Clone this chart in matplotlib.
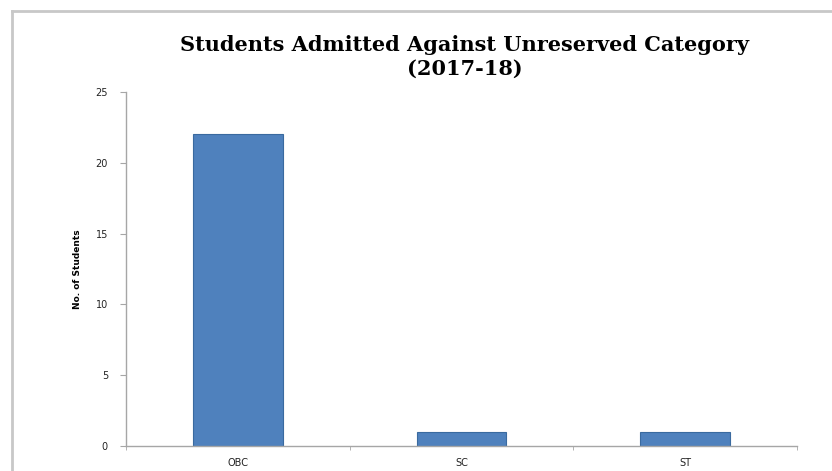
import matplotlib
matplotlib.use('Agg')
import matplotlib.pyplot as plt
from matplotlib.lines import Line2D

categories = ['OBC', 'SC', 'ST']
students = [22, 1, 1]
y_ticks = [0, 5, 10, 15, 20, 25]

bar_color = '#4F81BD'
edge_color = '#3A6A9F'
axis_color = '#A6A6A6'


def main():
    fig = plt.figure(figsize=(8.32, 4.71), dpi=100)
    fig.patch.set_facecolor('white')

    # outer frame of the chart area (left and top edges visible)
    fig.add_artist(Line2D([12 / 832, 12 / 832], [-0.1, 1 - 11 / 471],
                          transform=fig.transFigure, color='#C8C8C8', linewidth=2))
    fig.add_artist(Line2D([12 / 832, 1.1], [1 - 11 / 471, 1 - 11 / 471],
                          transform=fig.transFigure, color='#C8C8C8', linewidth=2))

    ax = fig.add_axes([126 / 832, 25 / 471, 671 / 832, 354 / 471])
    x = list(range(len(categories)))
    ax.bar(x, students, width=0.4, color=bar_color, edgecolor=edge_color, linewidth=0.8)

    ax.set_xlim(-0.5, len(categories) - 0.5)
    ax.set_ylim(0, 25)
    ax.set_yticks(y_ticks)
    ax.set_yticklabels([str(t) for t in y_ticks], fontsize=7, color='#222222')
    ax.set_xticks(x)
    ax.set_xticklabels(categories, fontsize=7, color='#222222')
    ax.tick_params(axis='x', which='major', length=0, pad=9)
    ax.set_xticks([i - 0.5 for i in range(len(categories) + 1)], minor=True)
    ax.tick_params(axis='x', which='minor', length=3, color=axis_color, direction='out')
    ax.tick_params(axis='y', length=4, color=axis_color, pad=9)

    for side in ['top', 'right']:
        ax.spines[side].set_visible(False)
    for side in ['left', 'bottom']:
        ax.spines[side].set_color(axis_color)
        ax.spines[side].set_linewidth(1)

    ax.set_ylabel('No. of Students', fontsize=6.5, fontweight='bold', labelpad=10)

    fig.text(465 / 832, 1 - 57 / 471,
             'Students Admitted Against Unreserved Category\n(2017-18)',
             ha='center', va='center', fontsize=15, fontweight='bold',
             family='DejaVu Serif', linespacing=1.25)

    fig.savefig('out.png', dpi=100)


if __name__ == '__main__':
    main()
